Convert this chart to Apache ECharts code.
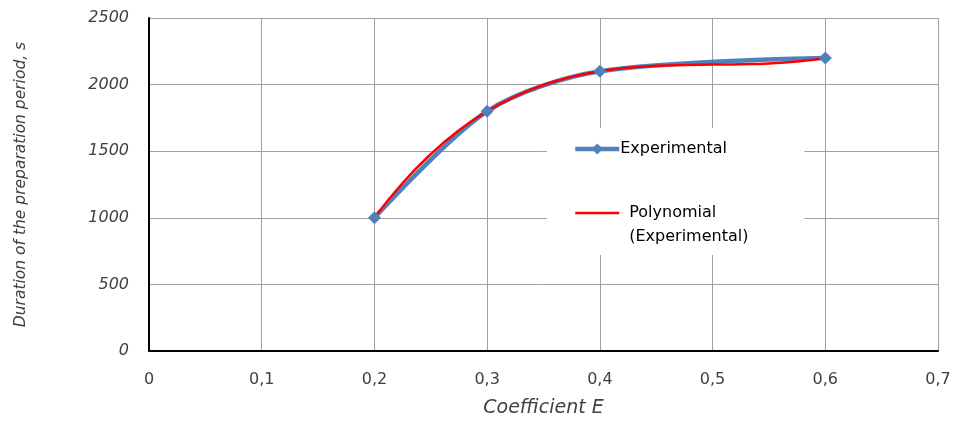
<!DOCTYPE html>
<html>
<head>
<meta charset="utf-8">
<script src="https://cdn.jsdelivr.net/npm/echarts@6/dist/echarts.min.js"></script>
<style>html,body{margin:0;padding:0;background:#fff;}#c{width:955px;height:423px;}</style>
</head>
<body>
<div id="c"></div>
<script>
const xTicks = [0, 0.1, 0.2, 0.3, 0.4, 0.5, 0.6, 0.7];
const yTicks = [0, 500, 1000, 1500, 2000, 2500];
const expX = [0.2, 0.3, 0.4, 0.6];
const expY = [1000, 1800, 2100, 2200];
const polyX = [0.2, 0.225, 0.25, 0.275, 0.3, 0.325, 0.35, 0.375, 0.4, 0.425, 0.45, 0.475, 0.5, 0.525, 0.55, 0.575, 0.6];
const polyY = [1000, 1261, 1478, 1657, 1800, 1912, 1997, 2058, 2100, 2126, 2141, 2147, 2150, 2153, 2159, 2174, 2200];

const FONT = '"DejaVu Sans", sans-serif';
const chart = echarts.init(document.getElementById('c'), null, {renderer: 'canvas'});
chart.setOption({
  animation: false,
  backgroundColor: '#fff',
  grid: {left: 149, right: 17, top: 18, bottom: 72, containLabel: false},
  xAxis: {
    type: 'value', min: xTicks[0], max: xTicks[xTicks.length - 1], interval: 0.1,
    name: 'Coefficient E', nameLocation: 'middle', nameGap: 48,
    nameTextStyle: {fontFamily: FONT, fontSize: 19, fontStyle: 'italic', color: '#404040'},
    axisLine: {show: true, lineStyle: {color: '#000', width: 2}},
    axisTick: {show: false},
    axisLabel: {fontFamily: FONT, fontSize: 16, color: '#404040', margin: 21,
      formatter: v => (Math.round(v * 10) / 10).toString().replace('.', ',')},
    splitLine: {show: true, lineStyle: {color: '#a0a0a0', width: 1}}
  },
  yAxis: {
    type: 'value', min: yTicks[0], max: yTicks[yTicks.length - 1], interval: 500,
    name: 'Duration of the preparation period, s', nameLocation: 'middle', nameGap: 120,
    nameTextStyle: {fontFamily: FONT, fontSize: 15.5, fontStyle: 'italic', color: '#404040'},
    axisLine: {show: true, lineStyle: {color: '#000', width: 2}},
    axisTick: {show: false},
    axisLabel: {fontFamily: FONT, fontSize: 16, fontStyle: 'italic', color: '#404040', margin: 20,
      formatter: v => String(v)},
    splitLine: {show: true, lineStyle: {color: '#a0a0a0', width: 1}}
  },
  legend: {
    orient: 'vertical', left: 547, top: 128,
    padding: [9, 56, 6, 26],
    backgroundColor: '#fff',
    itemWidth: 44, itemHeight: 14, itemGap: 16,
    textStyle: {fontFamily: FONT, fontSize: 16, color: '#000', lineHeight: 24, padding: [0, 0, 0, -4]},
    formatter: name => name.indexOf('\n') >= 0 ? ' \n' + name : name,
    data: [
      {name: 'Experimental', lineStyle: {width: 4.5, color: '#4f81bd'}},
      {name: 'Polynomial\n(Experimental)', itemStyle: {opacity: 0}, lineStyle: {width: 2.5, color: '#ff0000'},
       textStyle: {fontFamily: FONT, fontSize: 16, color: '#000', lineHeight: 24, padding: [0, 0, 0, 5]}}
    ]
  },
  series: [
    {
      name: 'Experimental', type: 'line', smooth: 0.3,
      data: expX.map((x, i) => [x, expY[i]]),
      symbol: 'diamond', symbolSize: 13, showSymbol: true,
      lineStyle: {color: '#4f81bd', width: 4.5},
      itemStyle: {color: '#4f81bd'}
    },
    {
      name: 'Polynomial\n(Experimental)', type: 'line', smooth: true,
      data: polyX.map((x, i) => [x, polyY[i]]),
      symbol: 'none',
      lineStyle: {color: '#ff0000', width: 2.5},
      itemStyle: {color: '#ff0000'}
    }
  ]
});
</script>
</body>
</html>
